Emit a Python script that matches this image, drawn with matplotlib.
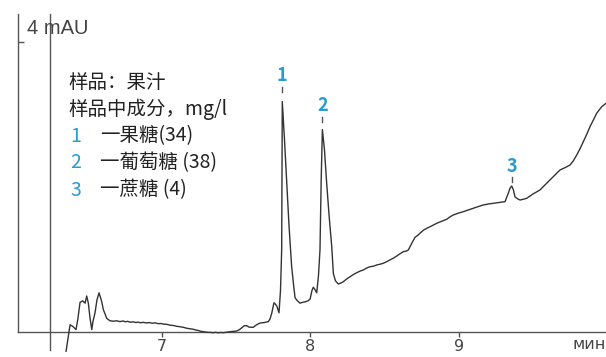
import numpy as np
import matplotlib
matplotlib.use("Agg")
import matplotlib.pyplot as plt

plt.rcParams['font.family'] = ['Noto Sans CJK SC', 'DejaVu Sans']

# chromatogram trace (time in min, signal in mAU)
times = [6.354, 6.367, 6.381, 6.399, 6.421, 6.434, 6.448, 6.466, 6.482, 6.493,
         6.504, 6.515, 6.527, 6.535, 6.549, 6.562, 6.576, 6.594, 6.605, 6.628,
         6.650, 6.672, 6.695, 6.717, 6.740, 6.751, 6.770, 6.785, 6.807, 6.825,
         6.838, 6.855, 6.874, 6.893, 6.913, 6.935, 6.953, 6.975, 6.993, 7.012,
         7.032, 7.055, 7.074, 7.098, 7.121, 7.145, 7.169, 7.190, 7.211, 7.230,
         7.242, 7.260, 7.278, 7.295, 7.310, 7.330, 7.346, 7.360, 7.377, 7.395,
         7.413, 7.435, 7.458, 7.480, 7.503, 7.522, 7.539, 7.555, 7.571, 7.585,
         7.600, 7.615, 7.630, 7.645, 7.660, 7.687, 7.705, 7.716, 7.728, 7.739,
         7.754, 7.765, 7.773, 7.788, 7.798, 7.806, 7.810, 7.825, 7.840, 7.855,
         7.873, 7.886, 7.896, 7.907, 7.929, 7.945, 7.956, 7.970, 7.983, 7.997,
         8.010, 8.019, 8.030, 8.042, 8.054, 8.064, 8.072, 8.080, 8.094, 8.109,
         8.125, 8.143, 8.154, 8.168, 8.187, 8.205, 8.221, 8.245, 8.266, 8.290,
         8.311, 8.335, 8.356, 8.378, 8.401, 8.425, 8.446, 8.470, 8.490, 8.512,
         8.535, 8.560, 8.581, 8.603, 8.625, 8.645, 8.659, 8.682, 8.704, 8.720,
         8.737, 8.760, 8.783, 8.815, 8.850, 8.885, 8.917, 8.940, 8.962, 8.995,
         9.029, 9.062, 9.096, 9.130, 9.164, 9.197, 9.231, 9.270, 9.310, 9.332,
         9.343, 9.355, 9.366, 9.377, 9.394, 9.411, 9.435, 9.456, 9.498, 9.545,
         9.580, 9.613, 9.645, 9.680, 9.715, 9.748, 9.770, 9.793, 9.815, 9.837,
         9.860, 9.882, 9.905, 9.927, 9.961, 9.990]
absorb = [-0.24, -0.08, 0.09, 0.07, 0.03, 0.17, 0.37, 0.39, 0.36, 0.45,
          0.36, 0.18, 0.03, 0.13, 0.24, 0.40, 0.49, 0.38, 0.28, 0.17,
          0.14, 0.135, 0.14, 0.130, 0.138, 0.128, 0.133, 0.122, 0.127, 0.118,
          0.124, 0.115, 0.121, 0.113, 0.118, 0.110, 0.114, 0.104, 0.106, 0.098,
          0.096, 0.085, 0.082, 0.072, 0.066, 0.058, 0.046, 0.040, 0.034, 0.024,
          0.020, 0.010, 0.004, 0.000, -0.004, -0.006, -0.009, -0.004, -0.010, -0.006,
          -0.009, -0.002, 0.004, 0.008, 0.012, 0.030, 0.055, 0.079, 0.079, 0.062,
          0.059, 0.059, 0.082, 0.098, 0.112, 0.118, 0.124, 0.129, 0.165, 0.234,
          0.366, 0.345, 0.325, 0.24, 0.52, 1.03, 2.88, 2.40, 1.86, 1.34,
          0.82, 0.59, 0.43, 0.40, 0.36, 0.37, 0.375, 0.38, 0.39, 0.41,
          0.52, 0.56, 0.53, 0.49, 0.71, 1.03, 1.90, 2.53, 2.28, 1.86,
          1.46, 1.07, 0.73, 0.64, 0.60, 0.612, 0.629, 0.665, 0.691, 0.720,
          0.741, 0.762, 0.775, 0.800, 0.816, 0.823, 0.838, 0.848, 0.859, 0.878,
          0.900, 0.925, 0.950, 0.978, 1.004, 1.012, 1.025, 1.109, 1.184, 1.205,
          1.234, 1.272, 1.296, 1.325, 1.359, 1.385, 1.409, 1.440, 1.463, 1.485,
          1.504, 1.525, 1.546, 1.568, 1.588, 1.600, 1.609, 1.618, 1.629, 1.734,
          1.796, 1.825, 1.78, 1.69, 1.665, 1.65, 1.66, 1.671, 1.725, 1.775,
          1.840, 1.900, 1.960, 2.025, 2.055, 2.088, 2.140, 2.213, 2.290, 2.379,
          2.470, 2.566, 2.650, 2.734, 2.816, 2.859]

# peaks
peak_times = [7.810, 8.080, 9.355]
peak_labels = ['1', '2', '3']
dash_gaps = [10, 8, 4]  # px between apex and marker dash

# legend text
sample_line = '样品：果汁'
content_line = '样品中成分，mg/l'
components = ['一果糖(34)', '一葡萄糖 (38)', '一蔗糖 (4)']

x_ticks = [7, 8, 9]
injection_time = 6.246
scale_tick = 3.625

blue = '#2a9bd0'
grey = '#555555'

fig = plt.figure(figsize=(6.06, 3.57), dpi=100)
ax = fig.add_axes([18 / 606, 25 / 357, 588 / 606, 318 / 357])
ax.set_xlim(6.0303, 9.990)
ax.set_ylim(0, 3.975)

ax.plot(times, absorb, color='#333333', linewidth=1.0, clip_on=False, zorder=3)

# injection marker line
ax.plot([injection_time, injection_time], [-0.225, 3.975], color=grey,
        linewidth=1, clip_on=False)

for s in ['top', 'right']:
    ax.spines[s].set_visible(False)
for s in ['left', 'bottom']:
    ax.spines[s].set_color(grey)
    ax.spines[s].set_linewidth(1)

ax.set_xticks(x_ticks)
ax.set_xticklabels([str(t) for t in x_ticks])
ax.tick_params(axis='x', direction='out', length=3.6, width=1, color=grey,
               pad=1.5, labelsize=11.5, labelcolor='#444444')
for lbl in ax.get_xticklabels():
    lbl.set_family('DejaVu Sans')
ax.set_yticks([scale_tick])
ax.set_yticklabels([])
ax.tick_params(axis='y', direction='in', length=4.3, width=1, color=grey)

ax.text(6.091, 3.80, '4 mAU', fontsize=14.5, color='#444444', va='center',
        ha='left', family='Liberation Sans')
ax.text(1.0, -0.038, 'мин', transform=ax.transAxes, fontsize=11.5,
        color='#444444', ha='right', va='center', family='DejaVu Sans')

# peak markers and numbers
px_per_unit = fig.get_figheight() * fig.dpi * (318 / 357) / 3.975
for t, lab, gap in zip(peak_times, peak_labels, dash_gaps):
    h = np.interp(t, times, absorb)
    y0 = h + gap / px_per_unit
    y1 = h + (gap + 5) / px_per_unit
    ax.plot([t, t], [y0, y1], color=grey, linewidth=1)
    ax.text(t, h + (gap + 16) / px_per_unit, lab, color=blue, fontsize=13,
            fontweight='bold', ha='center', va='center')

# sample description block
x_left = (68 - 18) / 588
line_y = [(332 - py) / 318 for py in [82, 109, 136, 163, 190]]
ax.text(x_left, line_y[0], sample_line, transform=ax.transAxes, fontsize=14,
        va='center', ha='left', color='#222222', fontweight='medium')
ax.text(x_left, line_y[1], content_line, transform=ax.transAxes, fontsize=14,
        va='center', ha='left', color='#222222', fontweight='medium')
for i, (lab, name) in enumerate(zip(peak_labels, components)):
    ax.text((70 - 18) / 588, line_y[i + 2], lab, transform=ax.transAxes,
            fontsize=14, va='center', ha='left', color=blue)
    ax.text((100 - 18) / 588, line_y[i + 2], name, transform=ax.transAxes,
            fontsize=14, va='center', ha='left', color='#222222',
            fontweight='medium')

fig.savefig('out.png', dpi=100)
